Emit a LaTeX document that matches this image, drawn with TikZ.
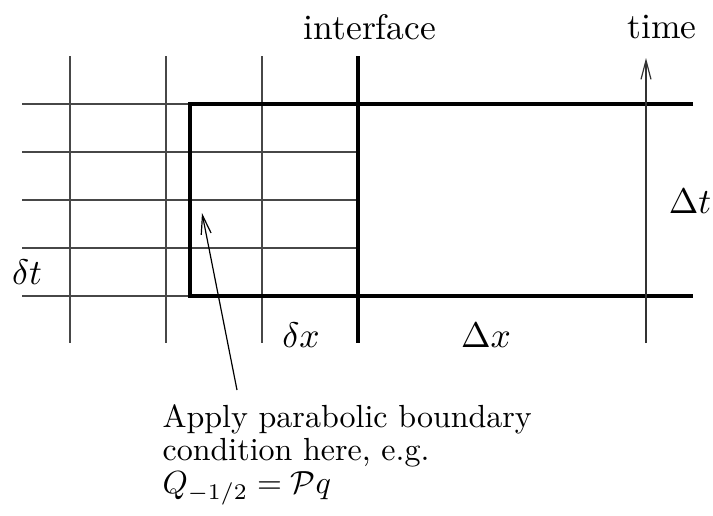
\documentclass[tikz,border=0pt]{standalone}
\usetikzlibrary{arrows.meta}
\begin{document}
\begin{tikzpicture}[x=1pt,y=-1pt,
  gridline/.style={draw=black!72,line width=1.4pt},
  heavyline/.style={draw=black,line width=4.6pt},
  pointer/.style={draw=black,line width=1.2pt,-{Straight Barb[length=19pt,width=10pt]}},
  lab/.style={inner sep=0pt,scale=3.55},
  para/.style={inner sep=0pt,scale=3.2,align=left,font=\fontsize{10}{10.3}\selectfont}]
\useasboundingbox (0,0) rectangle (713,515);
% fine grid
\foreach \y in {104,152,200,248,296} \draw[gridline] (22,\y) -- (358,\y);
\foreach \x in {70,166,262} \draw[gridline] (\x,56) -- (\x,343);
% interface and coarse cell
\draw[heavyline] (358,56) -- (358,343);
\draw[heavyline] (693,104) -- (190,104) -- (190,296) -- (693,296);
% time arrow
\coordinate (tbot) at (646,343);
\coordinate (ttop) at (646,58);
\draw[pointer,draw=black!80] (tbot) -- (ttop);
% labels
\node[lab] (interface) at (370,27) {interface};
\node[lab] (time) at (662,27) {time};
\node[lab] (Dt) at (690,201) {$\Delta t$};
\node[lab] (dt) at (27,272) {$\delta t$};
\node[lab] (dx) at (301,335) {$\delta x$};
\node[lab] (Dx) at (486,335) {$\Delta x$};
% annotation
\node[para,anchor=north west] (note) at (162,404) {Apply parabolic boundary\\condition here, e.g.\\$Q_{-1/2}=\mathcal{P}q$};
\coordinate (atail) at (237,390);
\coordinate (ahead) at (202,213);
\draw[pointer] (atail) -- (ahead);
\end{tikzpicture}
\end{document}
